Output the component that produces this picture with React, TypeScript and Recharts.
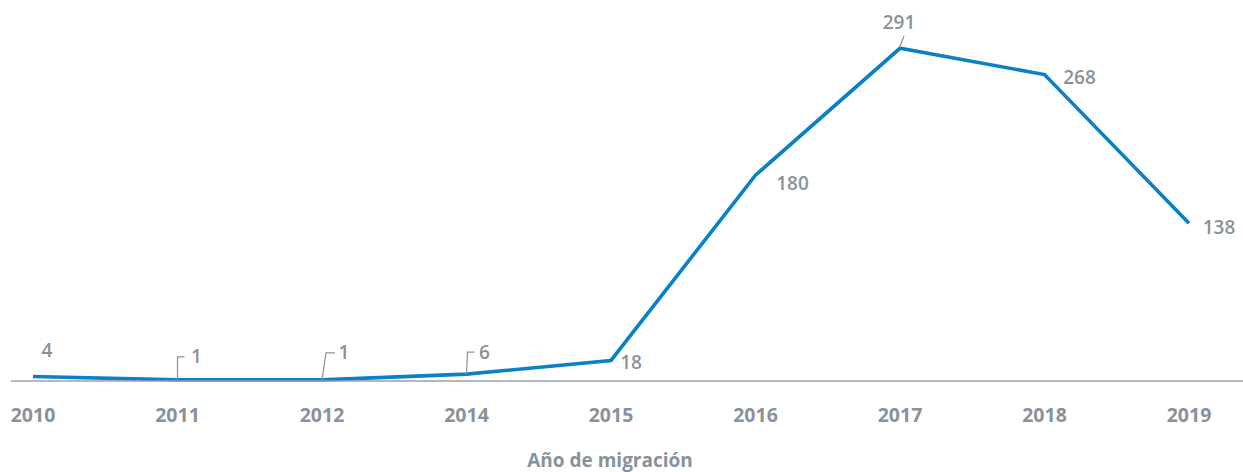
import React from "react";
import { LineChart, Line, XAxis, YAxis, LabelList, Label } from "recharts";

const YEARS = ["2010", "2011", "2012", "2014", "2015", "2016", "2017", "2018", "2019"];
const MIGRANTS = [4, 1, 1, 6, 18, 180, 291, 268, 138];
const AXIS_TITLE = "Año de migración";

const data = YEARS.map((year, i) => ({ year, value: MIGRANTS[i] }));

const GRAY = "#89929a";
const BLUE = "#0a80c6";
const FONT = "'Open Sans', Roboto, sans-serif";

// label placement relative to each point (dx, dy) and optional leader path
const LABEL_LAYOUT: { dx: number; dy: number; leader?: [number, number][] }[] = [
  { dx: 14, dy: -26 },
  { dx: 19, dy: -24, leader: [[0, 0], [0, -23], [7, -23]] },
  { dx: 22, dy: -28, leader: [[0, 0], [4, -27], [13, -27]] },
  { dx: 18, dy: -22, leader: [[0, 0], [1, -22], [8, -22]] },
  { dx: 20, dy: 2 },
  { dx: 37, dy: 8 },
  { dx: -1, dy: -26, leader: [[0, -2], [4, -12]] },
  { dx: 35, dy: 2 },
  { dx: 30, dy: 4 },
];

const ValueLabel = (props: any) => {
  const { x, y, value, index } = props;
  const l = LABEL_LAYOUT[index] || { dx: 0, dy: -15 };
  return (
    <g>
      {l.leader && (
        <polyline
          points={l.leader.map(([a, b]) => `${x + a},${y + b}`).join(" ")}
          fill="none"
          stroke={GRAY}
          strokeWidth={1.2}
        />
      )}
      <text
        x={x + l.dx}
        y={y + l.dy}
        textAnchor="middle"
        dominantBaseline="central"
        fill={GRAY}
        fontSize={19}
        fontWeight={600}
        fontFamily={FONT}
      >
        {value}
      </text>
    </g>
  );
};

const YearTick = (props: any) => {
  const { x, y, payload } = props;
  return (
    <text
      x={x}
      y={y + 33}
      textAnchor="middle"
      dominantBaseline="central"
      fill={GRAY}
      fontSize={19.5}
      fontWeight={700}
      fontFamily={FONT}
    >
      {payload.value}
    </text>
  );
};

export default function App() {
  return (
    <div style={{ position: "absolute", left: 0, top: 0, background: "#fff" }}>
      <LineChart
        width={1243}
        height={472}
        data={data}
        margin={{ top: 38, right: 0, bottom: 3, left: 11 }}
      >
        <YAxis hide domain={[0, 300]} />
        <XAxis
          dataKey="year"
          height={88}
          padding={{ left: 22, right: 54 }}
          tickLine={false}
          tickSize={0}
          tickMargin={0}
          axisLine={{ stroke: "#9aa1a7", strokeWidth: 1.5 }}
          tick={<YearTick />}
          interval={0}
        >
          <Label
            value={AXIS_TITLE}
            position="insideBottom"
            offset={2}
            dx={-17}
            fill={GRAY}
            fontSize={19}
            fontWeight={700}
            fontFamily={FONT}
          />
        </XAxis>
        <Line
          type="linear"
          dataKey="value"
          stroke={BLUE}
          strokeWidth={3.6}
          dot={false}
          activeDot={false}
          isAnimationActive={false}
        >
          <LabelList dataKey="value" content={<ValueLabel />} />
        </Line>
      </LineChart>
    </div>
  );
}
